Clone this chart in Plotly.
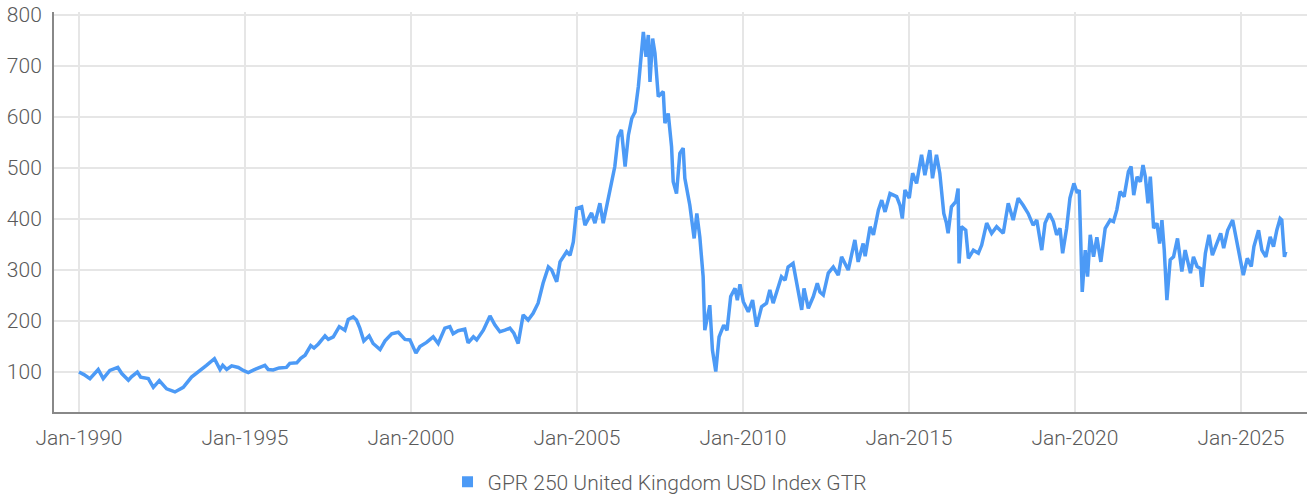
import pandas as pd
import plotly.graph_objects as go

SERIES_NAME = "GPR 250 United Kingdom USD Index GTR"

# decimal-year dates and index values
years = [
    1990.0, 1990.15, 1990.33, 1990.58, 1990.73, 1990.93, 1991.17, 1991.29, 1991.49, 1991.59,
    1991.76, 1991.86, 1992.09, 1992.24, 1992.42, 1992.64, 1992.89, 1993.14, 1993.39, 1993.64,
    1993.84, 1994.08, 1994.25, 1994.33, 1994.45, 1994.6, 1994.8, 1994.95, 1995.1, 1995.3,
    1995.43, 1995.6, 1995.7, 1995.85, 1996.03, 1996.25, 1996.35, 1996.56, 1996.68, 1996.81,
    1996.98, 1997.08, 1997.21, 1997.41, 1997.51, 1997.66, 1997.84, 1998.01, 1998.11, 1998.26,
    1998.36, 1998.46, 1998.58, 1998.74, 1998.86, 1999.07, 1999.22, 1999.42, 1999.62, 1999.82,
    1999.97, 2000.15, 2000.27, 2000.47, 2000.67, 2000.82, 2001.02, 2001.17, 2001.27, 2001.42,
    2001.62, 2001.72, 2001.88, 2001.98, 2002.18, 2002.38, 2002.53, 2002.68, 2002.83, 2002.98,
    2003.1, 2003.23, 2003.38, 2003.53, 2003.68, 2003.83, 2003.98, 2004.14, 2004.24, 2004.39,
    2004.49, 2004.69, 2004.79, 2004.89, 2004.99, 2005.14, 2005.24, 2005.44, 2005.54, 2005.69,
    2005.79, 2005.89, 2005.99, 2006.14, 2006.24, 2006.34, 2006.45, 2006.55, 2006.65, 2006.75,
    2006.85, 2006.93, 2007.0, 2007.08, 2007.15, 2007.2, 2007.28, 2007.35, 2007.45, 2007.6,
    2007.65, 2007.75, 2007.85, 2007.9, 2008.0, 2008.1, 2008.2, 2008.25, 2008.4, 2008.53,
    2008.61, 2008.7, 2008.8, 2008.85, 2009.0, 2009.08, 2009.18, 2009.28, 2009.42, 2009.52,
    2009.63, 2009.76, 2009.83, 2009.91, 2010.01, 2010.16, 2010.29, 2010.41, 2010.56, 2010.71,
    2010.81, 2010.91, 2011.01, 2011.16, 2011.27, 2011.36, 2011.51, 2011.62, 2011.77, 2011.84,
    2011.97, 2012.12, 2012.24, 2012.32, 2012.42, 2012.57, 2012.72, 2012.87, 2012.97, 2013.17,
    2013.37, 2013.47, 2013.62, 2013.68, 2013.83, 2013.93, 2014.08, 2014.18, 2014.28, 2014.43,
    2014.63, 2014.73, 2014.8, 2014.88, 2015.01, 2015.11, 2015.23, 2015.38, 2015.48, 2015.63,
    2015.71, 2015.83, 2015.93, 2016.05, 2016.13, 2016.18, 2016.28, 2016.41, 2016.48, 2016.51,
    2016.58, 2016.71, 2016.79, 2016.94, 2017.09, 2017.19, 2017.34, 2017.49, 2017.64, 2017.84,
    2017.99, 2018.14, 2018.29, 2018.44, 2018.59, 2018.74, 2018.85, 2019.0, 2019.1, 2019.23,
    2019.35, 2019.45, 2019.55, 2019.63, 2019.75, 2019.85, 2019.97, 2020.07, 2020.13, 2020.22,
    2020.31, 2020.38, 2020.46, 2020.56, 2020.66, 2020.78, 2020.91, 2021.06, 2021.16, 2021.26,
    2021.36, 2021.48, 2021.61, 2021.69, 2021.77, 2021.87, 2021.97, 2022.05, 2022.12, 2022.2,
    2022.27, 2022.37, 2022.47, 2022.55, 2022.62, 2022.69, 2022.77, 2022.87, 2022.97, 2023.09,
    2023.22, 2023.32, 2023.48, 2023.57, 2023.68, 2023.78, 2023.83, 2023.93, 2024.04, 2024.14,
    2024.27, 2024.39, 2024.48, 2024.6, 2024.75, 2024.85, 2024.98, 2025.07, 2025.19, 2025.31,
    2025.39, 2025.53, 2025.63, 2025.75, 2025.88, 2025.98, 2026.08, 2026.18, 2026.23, 2026.31,
    2026.35,
]
values = [
    100, 95, 87, 105, 87, 103, 109, 97, 84, 91,
    100, 90, 87, 70, 83, 67, 61, 70, 90, 104,
    113, 126, 105, 113, 105, 112, 109, 103, 99, 105,
    109, 113, 105, 104, 108, 109, 117, 118, 127, 133,
    152, 147, 155, 171, 164, 169, 189, 182, 203, 208,
    202, 186, 161, 171, 156, 144, 161, 175, 178, 164,
    163, 137, 150, 158, 169, 156, 186, 189, 175, 181,
    184, 157, 169, 163, 182, 210, 192, 179, 182, 186,
    176, 156, 212, 202, 215, 235, 274, 306, 300, 277,
    316, 336, 329, 355, 421, 424, 388, 412, 392, 431,
    392, 424, 460, 503, 561, 575, 503, 565, 597, 610,
    660, 710, 767, 718, 761, 669, 754, 725, 640, 650,
    588, 607, 542, 473, 450, 529, 539, 480, 427, 362,
    411, 365, 287, 182, 231, 143, 101, 169, 192, 182,
    248, 264, 241, 272, 238, 218, 241, 189, 228, 235,
    261, 235, 257, 287, 280, 306, 313, 274, 222, 264,
    225, 248, 274, 257, 251, 294, 306, 290, 326, 300,
    359, 316, 352, 327, 385, 369, 418, 437, 414, 450,
    444, 427, 401, 457, 441, 490, 470, 526, 486, 535,
    480, 526, 490, 411, 392, 372, 424, 434, 460, 313,
    385, 378, 323, 339, 333, 349, 392, 372, 385, 372,
    431, 398, 441, 427, 411, 388, 398, 339, 392, 411,
    395, 369, 382, 333, 382, 441, 470, 451, 457, 257,
    339, 287, 369, 326, 364, 316, 382, 398, 395, 418,
    454, 444, 493, 503, 447, 483, 473, 506, 483, 431,
    483, 382, 392, 352, 398, 339, 241, 320, 326, 362,
    297, 339, 294, 326, 307, 303, 267, 333, 369, 329,
    352, 372, 343, 378, 398, 365, 320, 290, 323, 307,
    346, 378, 339, 326, 365, 346, 378, 401, 398, 326,
    336,
]

y_ticks = [100, 200, 300, 400, 500, 600, 700, 800]


def to_date(y):
    base = pd.Timestamp(int(y), 1, 1)
    nxt = pd.Timestamp(int(y) + 1, 1, 1)
    return base + (nxt - base) * (y - int(y))


dates = [to_date(y) for y in years]

LINE_COLOR = "#4C9AF6"
FONT = "Roboto, sans-serif"
TEXT_COLOR = "#5a5a5a"

fig = go.Figure()
fig.add_trace(go.Scatter(
    x=dates, y=values, mode="lines",
    line=dict(color=LINE_COLOR, width=3.5),
    showlegend=False, name=SERIES_NAME,
))
fig.add_trace(go.Scatter(
    x=[None], y=[None], mode="markers",
    marker=dict(symbol="square", size=11, color=LINE_COLOR),
    name=SERIES_NAME, showlegend=True,
))

fig.update_layout(
    width=1308, height=497,
    margin=dict(l=54, r=1, t=12, b=85),
    paper_bgcolor="white", plot_bgcolor="white",
    font=dict(family=FONT, size=21, color=TEXT_COLOR, weight=300),
    legend=dict(orientation="h", xref="container", yref="container",
                x=0.5046, xanchor="center", y=0.030, yanchor="middle",
                font=dict(size=21, color=TEXT_COLOR, weight=300), itemwidth=30),
    xaxis=dict(
        range=[to_date(1989.247), to_date(2026.99)],
        tick0="1990-01-01", dtick="M60", tickformat="%b-%Y",
        showgrid=True, gridcolor="#e6e6e6", gridwidth=2,
        showline=True, linecolor="#888888", linewidth=2,
        ticks="", zeroline=False, ticklabelstandoff=6, automargin=False,
    ),
    yaxis=dict(
        range=[21.6, 806],
        tickvals=y_ticks,
        showgrid=True, gridcolor="#e6e6e6", gridwidth=2,
        showline=True, linecolor="#888888", linewidth=2,
        ticks="", zeroline=False, ticklabelstandoff=6, automargin=False,
    ),
)

# remove the browser's default 8px body margin so the figure sits at the page origin
fig.write_html(
    "out.html",
    config={"displayModeBar": False},
    post_script="document.body.style.margin='0';document.body.style.overflow='hidden';",
)
